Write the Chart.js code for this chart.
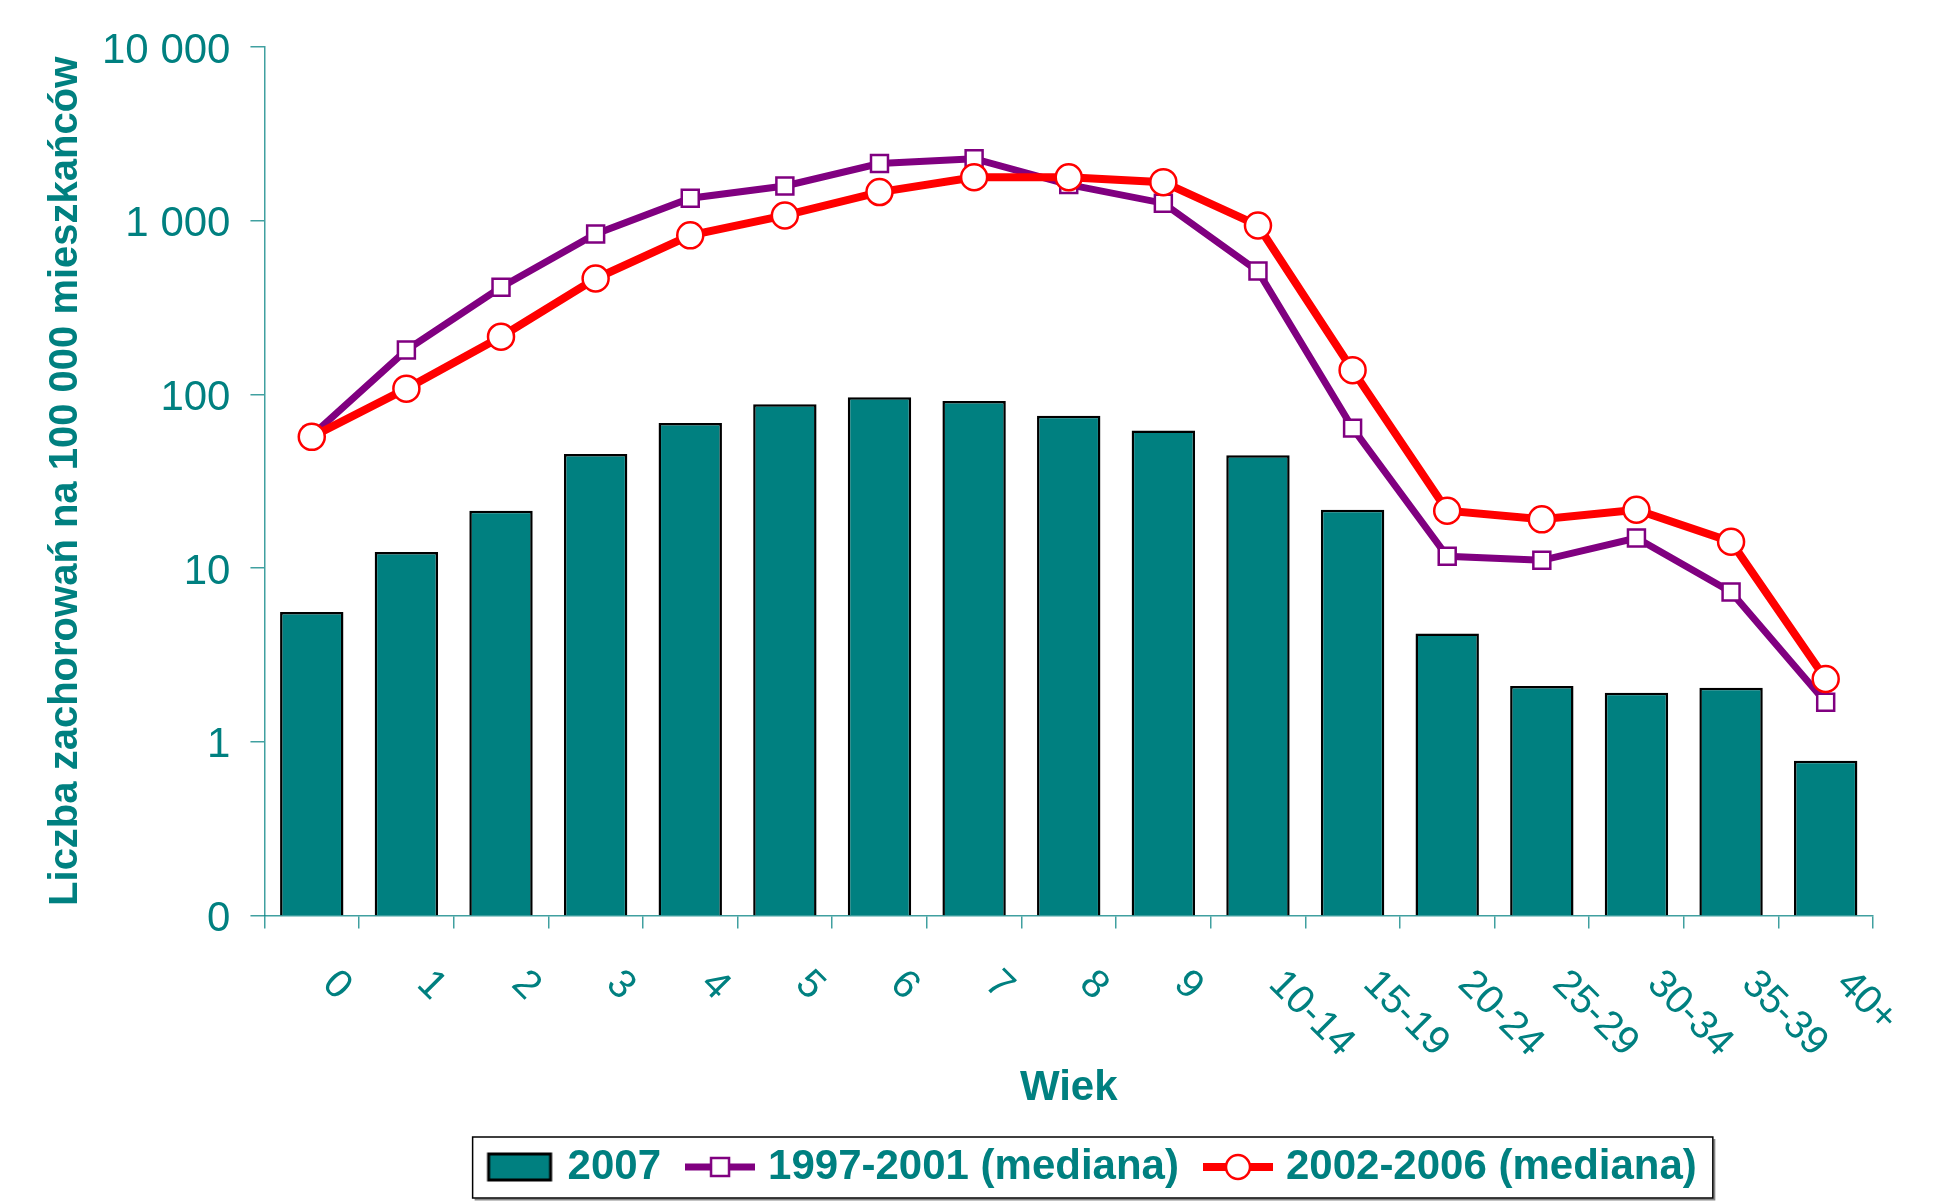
<!DOCTYPE html>
<html lang="pl">
<head>
<meta charset="UTF-8">
<title>Liczba zachorowań wg wieku</title>
<style>
    html, body { margin: 0; padding: 0; background: #fff; }
    #chart { display: block; }
</style>
</head>
<body>
<canvas id="chart" width="1936" height="1204"></canvas>
<script src="https://cdn.jsdelivr.net/npm/chart.js"></script>
<script>
// age groups on the x axis
const ageGroups = ['0', '1', '2', '3', '4', '5', '6', '7', '8', '9',
    '10-14', '15-19', '20-24', '25-29', '30-34', '35-39', '40+'];

// incidence per 100 000
const values2007 = [5.6, 12.4, 21.4, 45.4, 68.4, 87.7, 96.5, 91.8, 75.5, 62, 44.7, 21.7, 4.2, 2.1, 1.92, 2.05, 0.78];
const median9701 = [58, 180, 414, 838, 1347, 1585, 2133, 2276, 1614, 1262, 513, 64, 11.7, 11.1, 14.9, 7.3, 1.69];
const median0206 = [57, 108, 215, 465, 824, 1072, 1462, 1780, 1780, 1667, 939, 138, 21.4, 19.1, 21.7, 14.2, 2.3];

const yTicks = [0.1, 1, 10, 100, 1000, 10000];
const seriesNames = ['2007', '1997-2001 (mediana)', '2002-2006 (mediana)'];

const TEAL = '#008080';
const PURPLE = '#800080';
const RED = '#ff0000';
const AXIS = 'rgba(0,128,128,0.75)';

Chart.defaults.font.family = '"Liberation Sans", Arial, sans-serif';

function fmtTick(v) {
    if (v < 1) return '0';
    return String(v).replace(/\B(?=(\d{3})+(?!\d))/g, ' ');
}

// small canvases used as legend symbols
function makeIcon(kind) {
    const c = document.createElement('canvas');
    c.width = 70;
    c.height = 32;
    const g = c.getContext('2d');
    if (kind === 'bar') {
        g.fillStyle = TEAL;
        g.fillRect(4, 3, 62, 26);
        g.strokeStyle = '#000';
        g.lineWidth = 3;
        g.strokeRect(4, 3, 62, 26);
    } else if (kind === 'rect') {
        g.strokeStyle = PURPLE;
        g.lineWidth = 7;
        g.beginPath(); g.moveTo(0, 16); g.lineTo(70, 16); g.stroke();
        g.fillStyle = '#fff';
        g.fillRect(26, 7, 18, 18);
        g.lineWidth = 2.5;
        g.strokeRect(26, 7, 18, 18);
    } else {
        g.strokeStyle = RED;
        g.lineWidth = 8;
        g.beginPath(); g.moveTo(0, 16); g.lineTo(70, 16); g.stroke();
        g.fillStyle = '#fff';
        g.lineWidth = 2.5;
        g.beginPath(); g.arc(35, 16, 12, 0, Math.PI * 2); g.fill(); g.stroke();
    }
    return c;
}
const icons = [makeIcon('bar'), makeIcon('rect'), makeIcon('circle')];

// x labels turned 45 degrees clockwise, like the original
const xLabelPlugin = {
    id: 'xLabels',
    afterDraw(chart) {
        const ctx = chart.ctx;
        const xs = chart.scales.x;
        ctx.save();
        ctx.font = '40px "Liberation Sans", Arial, sans-serif';
        ctx.fillStyle = TEAL;
        ctx.textAlign = 'left';
        ctx.textBaseline = 'middle';
        ageGroups.forEach((lab, i) => {
            ctx.save();
            ctx.translate(xs.getPixelForTick(i) + 17, xs.top + 62);
            ctx.rotate(Math.PI / 4);
            ctx.fillText(lab, 0, 0);
            ctx.restore();
        });
        ctx.restore();
    }
};

// frame round the legend, and nudge it right
const legendFrame = {
    id: 'legendFrame',
    afterLayout(chart) {
        chart.legend.left += 26;
        chart.legend.right += 26;
    },
    afterDraw(chart) {
        const hb = chart.legend.legendHitBoxes;
        if (!hb || !hb.length) return;
        const first = hb[0], last = hb[hb.length - 1];
        const left = first.left - 20;
        const right = last.left + last.width + 16;
        const cy = first.top + first.height / 2;
        const top = cy - 30, bottom = cy + 31;
        const ctx = chart.ctx;
        ctx.save();
        ctx.strokeStyle = '#888';
        ctx.lineWidth = 2;
        ctx.beginPath();
        ctx.moveTo(left + 2, bottom + 1.5);
        ctx.lineTo(right + 1.5, bottom + 1.5);
        ctx.lineTo(right + 1.5, top + 2);
        ctx.stroke();
        ctx.strokeStyle = '#000';
        ctx.lineWidth = 1.5;
        ctx.strokeRect(left, top, right - left, bottom - top);
        ctx.restore();
    }
};

new Chart(document.getElementById('chart'), {
    type: 'bar',
    data: {
        labels: ageGroups,
        datasets: [{
            type: 'bar',
            label: seriesNames[0],
            data: values2007,
            backgroundColor: TEAL,
            borderColor: '#000',
            borderWidth: 2.5,
            barPercentage: 0.67,
            categoryPercentage: 1,
            order: 3
        }, {
            type: 'line',
            label: seriesNames[1],
            data: median9701,
            borderColor: PURPLE,
            borderWidth: 7,
            pointStyle: 'rect',
            pointRadius: 12,
            pointBackgroundColor: '#fff',
            pointBorderColor: PURPLE,
            pointBorderWidth: 2.5,
            order: 2
        }, {
            type: 'line',
            label: seriesNames[2],
            data: median0206,
            borderColor: RED,
            borderWidth: 8,
            pointStyle: 'circle',
            pointRadius: 13,
            pointBackgroundColor: '#fff',
            pointBorderColor: RED,
            pointBorderWidth: 2.5,
            order: 1
        }]
    },
    options: {
        responsive: false,
        animation: false,
        layout: { padding: { top: 47, right: 63, bottom: 6, left: 0 } },
        plugins: {
            tooltip: { enabled: false },
            legend: {
                position: 'bottom',
                fullSize: false,
                labels: {
                    usePointStyle: true,
                    pointStyleWidth: 54,
                    padding: 32,
                    color: TEAL,
                    font: { size: 42, weight: 'bold' },
                    generateLabels: () => seriesNames.map((name, i) => ({
                        text: name,
                        pointStyle: icons[i],
                        fontColor: TEAL,
                        datasetIndex: i,
                        lineWidth: 0
                    }))
                }
            }
        },
        scales: {
            x: {
                grid: {
                    offset: true,
                    drawOnChartArea: false,
                    color: AXIS,
                    tickLength: 13,
                    lineWidth: 1.5
                },
                border: { color: AXIS, width: 1.5 },
                ticks: { display: false },
                title: {
                    display: true,
                    text: 'Wiek',
                    color: TEAL,
                    font: { size: 42, weight: 'bold' },
                    padding: { top: 135, bottom: 0 }
                }
            },
            y: {
                type: 'logarithmic',
                min: 0.1,
                max: 10000,
                afterBuildTicks: (scale) => {
                    scale.ticks = yTicks.map(v => ({ value: v }));
                },
                grid: {
                    drawOnChartArea: false,
                    color: AXIS,
                    tickLength: 14,
                    lineWidth: 1.5
                },
                border: { color: AXIS, width: 1.5 },
                ticks: {
                    color: TEAL,
                    padding: 20,
                    labelOffset: 4,
                    font: { size: 42 },
                    callback: (v) => fmtTick(v)
                },
                title: {
                    display: true,
                    text: 'Liczba zachorowań na 100 000 mieszkańców',
                    color: TEAL,
                    font: { size: 40, weight: 'bold' },
                    padding: { top: 42, bottom: -8 }
                }
            }
        }
    },
    plugins: [xLabelPlugin, legendFrame]
});
</script>
</body>
</html>
